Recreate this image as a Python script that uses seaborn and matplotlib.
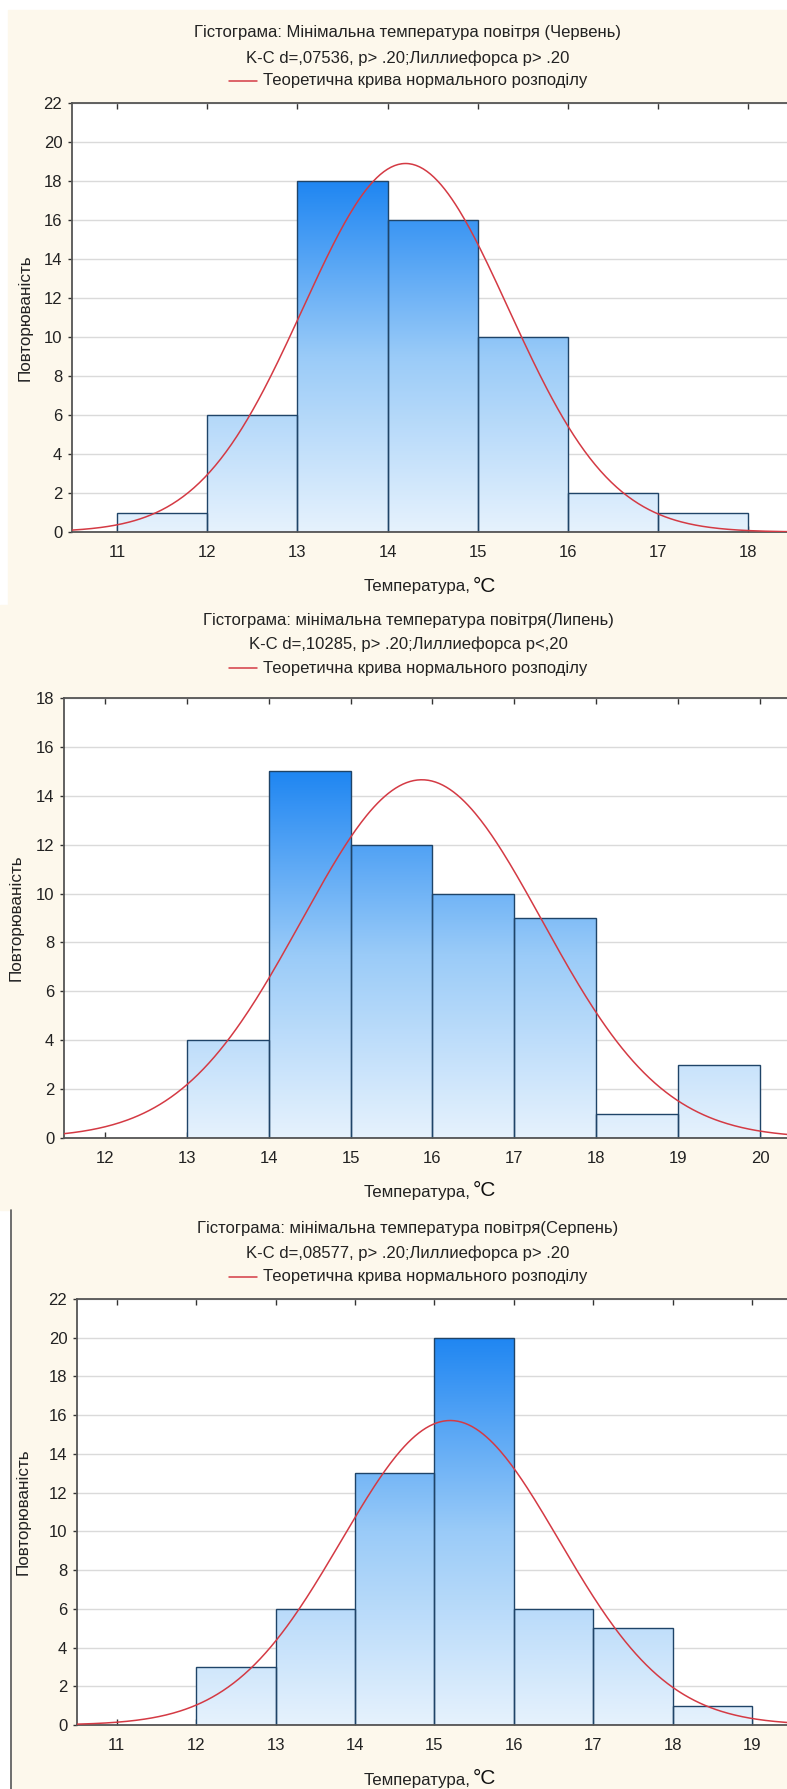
import numpy as np
import pandas as pd
import matplotlib
matplotlib.use("Agg")
import matplotlib.pyplot as plt
import seaborn as sns
from matplotlib.colors import LinearSegmentedColormap
from matplotlib.lines import Line2D
from matplotlib.patches import Rectangle

W, H = 787, 1789

# --- data ---
june_edges = [11, 12, 13, 14, 15, 16, 17, 18]
june_counts = [1, 6, 18, 16, 10, 2, 1]
june_mean, june_sd = 14.2, 1.14

july_edges = [13, 14, 15, 16, 17, 18, 19, 20]
july_counts = [4, 15, 12, 10, 9, 1, 3]
july_mean, july_sd = 15.87, 1.47

aug_edges = [12, 13, 14, 15, 16, 17, 18, 19]
aug_counts = [3, 6, 13, 20, 6, 5, 1]
aug_mean, aug_sd = 15.2, 1.37

titles = [
    ("Гістограма: Мінімальна температура повітря (Червень)",
     "K-C d=,07536, p> .20;Лиллиефорса p> .20"),
    ("Гістограма: мінімальна температура повітря(Липень)",
     "K-C d=,10285, p> .20;Лиллиефорса p<,20"),
    ("Гістограма: мінімальна температура повітря(Серпень)",
     "K-C d=,08577, p> .20;Лиллиефорса p> .20"),
]
legend_text = "Теоретична крива нормального розподілу"
xlabel_text = "Температура,"
ylabel_text = "Повторюваність"

CREAM = "#FDF8EC"
EDGE = "#1F4468"
RED = "#D43A44"
TXT = "#222222"
grad = LinearSegmentedColormap.from_list("g", ["#E6F2FD", "#9ACBF8", "#1F86F2"])

sns.set_theme(style="white")
plt.rcParams["font.family"] = ["Liberation Sans", "DejaVu Sans"]

fig = plt.figure(figsize=(W / 100, H / 100), dpi=100)
fig.patch.set_facecolor("white")


def px_box(left, top, right, bottom):
    return [left / W, 1 - bottom / H, (right - left) / W, (bottom - top) / H]


def fx(x):
    return x / W


def fy(y):
    return 1 - y / H


# background panels
fig.add_artist(Rectangle((fx(8), fy(605)), fx(787) - fx(8), fy(10) - fy(605),
                         transform=fig.transFigure, color=CREAM, zorder=0))
fig.add_artist(Rectangle((0, fy(1210)), 1, fy(605) - fy(1210),
                         transform=fig.transFigure, color=CREAM, zorder=0))
fig.add_artist(Rectangle((fx(12), 0), 1 - fx(12), fy(1210),
                         transform=fig.transFigure, color=CREAM, zorder=0))
fig.add_artist(Line2D([fx(11), fx(11)], [0, fy(1210)], transform=fig.transFigure,
                      color="#555555", lw=1.2))

panels = [
    dict(edges=june_edges, counts=june_counts, mean=june_mean, sd=june_sd,
         box=(72, 103, 787, 532), xlim=(10.5, 18.43), ymax=22,
         title_y=(33, 58, 81), xlabel_y=587, ylabel_x=25),
    dict(edges=july_edges, counts=july_counts, mean=july_mean, sd=july_sd,
         box=(64, 698, 787, 1138), xlim=(11.5, 20.33), ymax=18,
         title_y=(620, 644, 668), xlabel_y=1192, ylabel_x=16),
    dict(edges=aug_edges, counts=aug_counts, mean=aug_mean, sd=aug_sd,
         box=(77, 1299, 787, 1725), xlim=(10.5, 19.44), ymax=22,
         title_y=(1229, 1253, 1277), xlabel_y=1780, ylabel_x=23),
]

legend_texts = []
cx = 408
for (t1, t2), p in zip(titles, panels):
    ax = fig.add_axes(px_box(*p["box"]))
    ax.set_facecolor("white")
    df = pd.DataFrame({"lo": p["edges"][:-1], "count": p["counts"]})
    df["center"] = df["lo"] + 0.5

    sns.histplot(data=df, x="center", weights="count", bins=list(p["edges"]), ax=ax,
                 stat="count", color="#7DB9F6", edgecolor=EDGE, linewidth=1.0,
                 alpha=1, zorder=2)

    # vertical blue gradient inside each bar
    top = df["count"].max()
    g = np.linspace(0, 1, 256).reshape(-1, 1)
    for patch in list(ax.patches):
        im = ax.imshow(g, extent=[p["edges"][0], p["edges"][-1], 0, top], origin="lower",
                       cmap=grad, aspect="auto", zorder=1.9, interpolation="bilinear")
        im.set_clip_path(patch)
        patch.set_facecolor("none")

    # theoretical normal curve
    xs = np.linspace(p["xlim"][0], p["xlim"][1], 400)
    n = df["count"].sum()
    ys = n / (p["sd"] * np.sqrt(2 * np.pi)) * np.exp(-0.5 * ((xs - p["mean"]) / p["sd"]) ** 2)
    ax.plot(xs, ys, color=RED, lw=1.1, zorder=3)

    ax.set_xlim(*p["xlim"])
    ax.set_ylim(0, p["ymax"])
    ax.set_yticks(np.arange(0, p["ymax"] + 1, 2))
    ax.set_xticks(np.arange(int(np.ceil(p["xlim"][0])), int(p["xlim"][1]) + 1))
    ax.grid(axis="y", color="#DADADA", lw=1, zorder=0)
    ax.set_axisbelow(True)
    ax.set_xlabel("")
    ax.set_ylabel("")
    for s in ["left", "bottom", "top"]:
        ax.spines[s].set_color("#555555")
        ax.spines[s].set_linewidth(1.3)
    ax.spines["right"].set_visible(False)
    ax.tick_params(axis="x", direction="in", length=4, width=1, color="#333333",
                   top=True, bottom=True, labelsize=12, pad=9.5, labelcolor=TXT)
    ax.tick_params(axis="y", direction="out", length=3, width=1, color="#333333",
                   left=True, labelsize=12, pad=4, labelcolor=TXT)

    fig.text(fx(cx), fy(p["title_y"][0]), t1, ha="center", va="center",
             fontsize=12, color=TXT)
    fig.text(fx(cx), fy(p["title_y"][1]), t2, ha="center", va="center",
             fontsize=12, color=TXT)
    lt = fig.text(fx(cx + 17), fy(p["title_y"][2]), legend_text, ha="center", va="center",
                  fontsize=12, color=TXT)
    legend_texts.append((lt, p["title_y"][2]))

    fig.text(fx(471), fy(p["xlabel_y"]), xlabel_text, ha="right", va="center",
             fontsize=12.2, color=TXT)
    fig.text(fx(473), fy(p["xlabel_y"] - 1), "°C", ha="left", va="center",
             fontsize=15, color="#111111")
    mid = (p["box"][1] + p["box"][3]) / 2
    fig.text(fx(p["ylabel_x"]), fy(mid), ylabel_text, rotation=90, ha="center",
             va="center", fontsize=12.3, color=TXT)

# red legend strokes placed just left of each legend text
fig.canvas.draw()
for lt, y in legend_texts:
    bb = lt.get_window_extent()
    x0 = bb.x0 - 6
    fig.add_artist(Line2D([(x0 - 28) / W, x0 / W], [fy(y), fy(y)],
                          transform=fig.transFigure, color=RED, lw=1.1))

fig.savefig("out.png", dpi=100, facecolor=fig.get_facecolor())
